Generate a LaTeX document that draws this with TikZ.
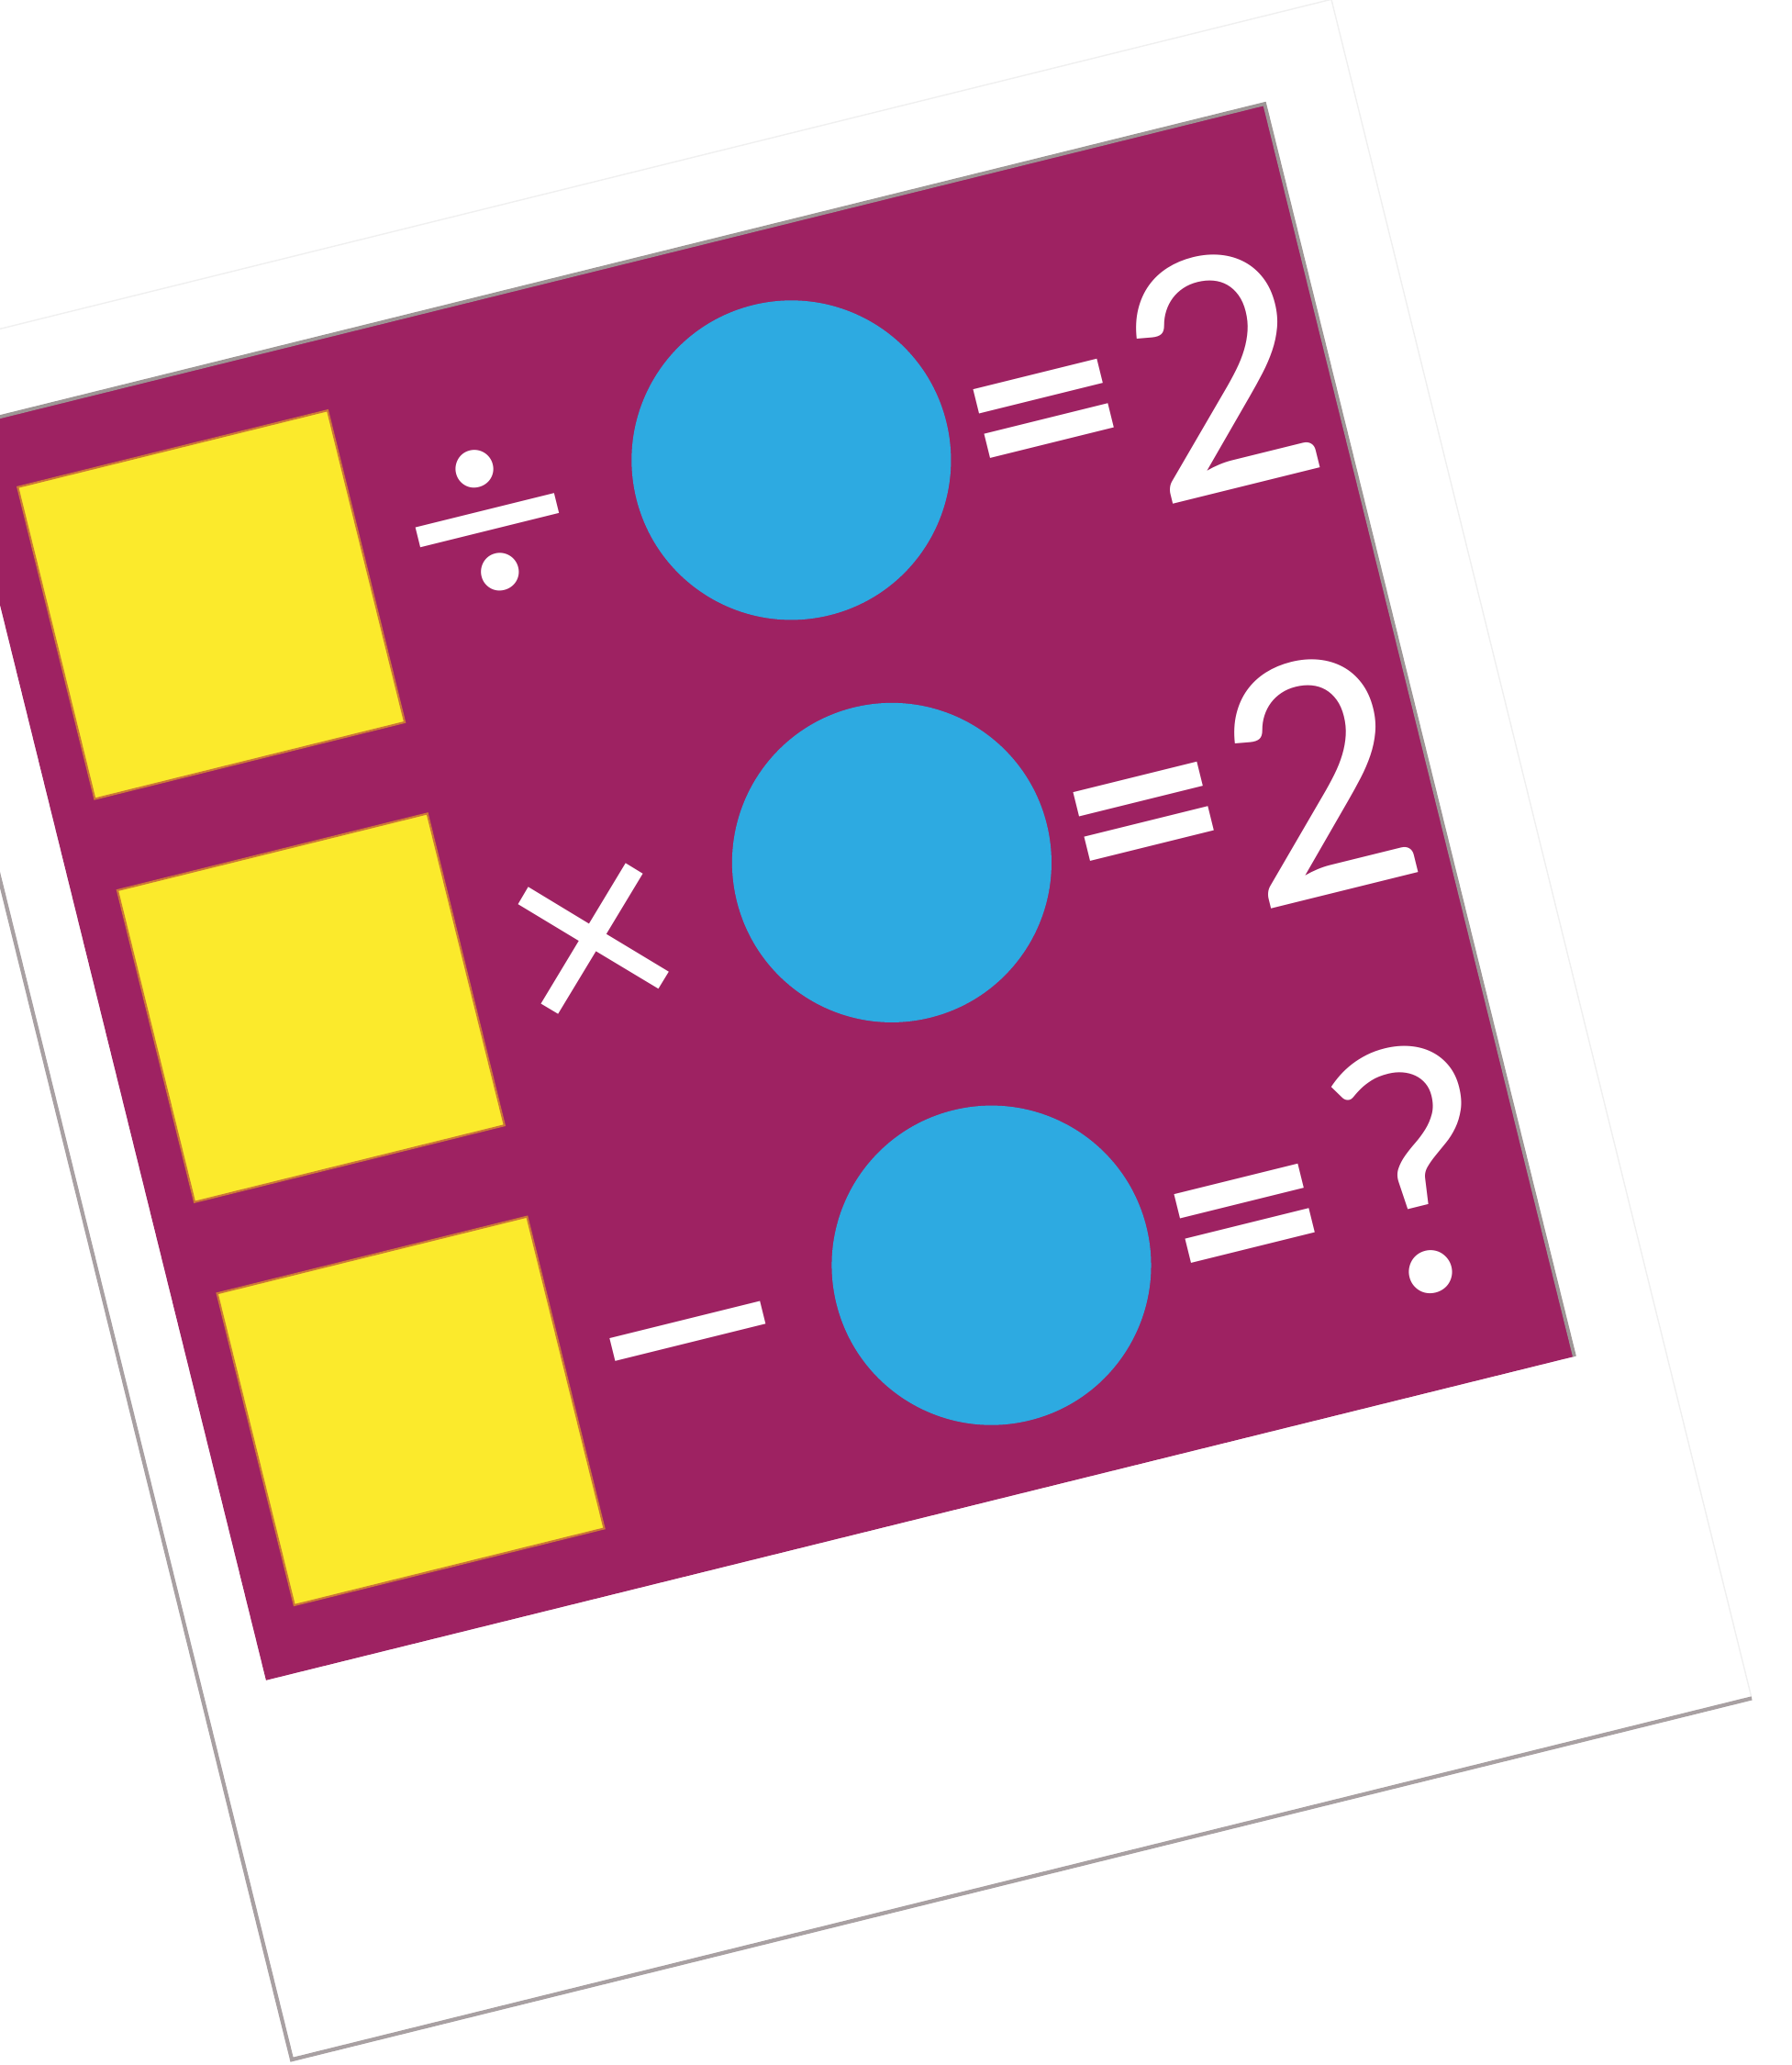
\documentclass[tikz,border=0pt]{standalone}
\usepackage{fontspec}
\setmainfont{Carlito}
\usepackage{tikz}
\usepackage{xcolor}
\usetikzlibrary{positioning}

\definecolor{plum}{RGB}{158,34,98}
\definecolor{tileyellow}{RGB}{251,234,44}
\definecolor{tileedge}{RGB}{205,120,55}
\definecolor{ballblue}{RGB}{45,170,225}
\definecolor{cardline}{RGB}{168,160,162}
\definecolor{panelline}{RGB}{158,150,150}

\begin{document}
\begin{tikzpicture}[
  big/.style={text=white, inner sep=0pt, font=\fontsize{112}{112}\selectfont},
  eqs/.style={text=white, inner sep=0pt, font=\fontsize{94}{94}\selectfont\bfseries, yscale=0.9},
  tile/.style={draw=tileedge, line width=0.6pt, fill=tileyellow, minimum width=3.48cm, minimum height=3.5cm, inner sep=0pt},
  ball/.style={circle, fill=ballblue, minimum size=3.48cm, inner sep=0pt},
]
\useasboundingbox (0,0) rectangle (19.52,-22.5);
\clip (0,0) rectangle (19.52,-22.5);

\begin{scope}[shift={(-1.40,-3.93)}, rotate=13.9, transform shape]
% Card and its edges
\fill[white] (0,0) rectangle (16.39,-19.07);
\draw[black!6, line width=0.4pt] (0,0) -- (16.39,0) -- (16.39,-19.07);
\draw[cardline, line width=1.2pt] (0,0) -- (0,-19.07) -- (16.39,-19.07);

% Purple panel
\fill[plum] (0.72,-0.93) rectangle (15.41,-14.99);
\draw[panelline, line width=1.1pt] (0.72,-0.93) -- (15.41,-0.93) -- (15.41,-14.99);

% Yellow squares
\node[tile] (sq1) at (2.955,-3.47) {};
\node[tile] (sq2) at (2.955,-7.995) {};
\node[tile] (sq3) at (2.955,-12.52) {};

% Blue circles
\node[ball] (ball1) at (9.47,-3.46) {};
\node[ball] (ball2) at (9.48,-7.98) {};
\node[ball] (ball3) at (9.48,-12.50) {};

% Operators
\node[big, font=\fontsize{98}{98}\selectfont] (div) at (6.10,-3.46) {÷};
\node[big, font=\fontsize{96}{96}\selectfont] (mul) at (6.12,-8.17) {×};
\node[big, xscale=1.15] (sub) at (6.10,-12.96) {−};

% Equals and results
\node[eqs] (eq1) at (12.28,-3.86) {=};
\node[eqs] (eq2) at (12.28,-8.38) {=};
\node[eqs] (eq3) at (12.30,-12.90) {=};
\node[big] (res1) at (14.22,-3.65) {2};
\node[big] (res2) at (14.20,-8.19) {2};
\node[big] (res3) at (14.22,-12.60) {?};
\end{scope}

\end{tikzpicture}
\end{document}
